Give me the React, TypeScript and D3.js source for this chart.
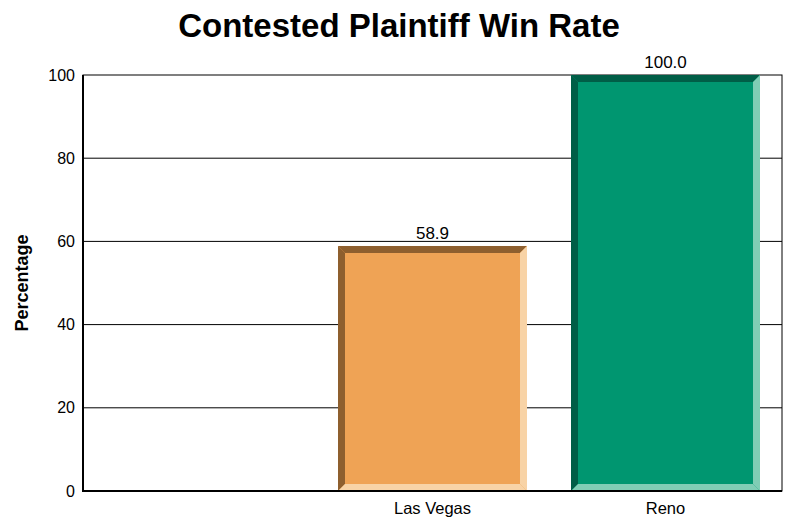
import React from "react";
import * as d3 from "d3";

const categories: string[] = ["", "Las Vegas", "Reno"];
const values: (number | null)[] = [null, 58.9, 100.0];
const faceColors: string[] = ["#EFA355", "#EFA355", "#009670"];
const darkColors: string[] = ["#8E5F2E", "#8E5F2E", "#005E47"];
const lightColors: string[] = ["#F8D3A6", "#F8D3A6", "#80CDB5"];
const yTicks: number[] = [0, 20, 40, 60, 80, 100];
const title = "Contested Plaintiff Win Rate";
const yLabel = "Percentage";

const W = 788;
const H = 518;
const M = { left: 83, right: 6, top: 75, bottom: 27 };

export default function App() {
  const x = d3
    .scaleBand<string>()
    .domain(categories.map((c, i) => String(i)))
    .range([M.left, W - M.right])
    .paddingInner(44 / 233)
    .paddingOuter(22 / 233);
  const y = d3.scaleLinear().domain([0, 100]).range([H - M.bottom, M.top]);
  const b = 7;
  const x0p = M.left;
  const x1p = W - M.right;
  const font = "Arial, 'Liberation Sans', Helvetica, sans-serif";

  return (
    <svg
      width={W}
      height={H}
      style={{ position: "absolute", left: 0, top: 0, background: "#fff" }}
      fontFamily={font}
    >
      <text x={399} y={37} textAnchor="middle" fontSize={33} fontWeight="bold" fill="#000">
        {title}
      </text>
      <text
        transform={`translate(28, ${(y(0) + y(100)) / 2}) rotate(-90)`}
        textAnchor="middle"
        fontSize={18}
        fontWeight="bold"
        fill="#000"
      >
        {yLabel}
      </text>
      {yTicks.map((t) => (
        <g key={t}>
          {t > 0 && t < 100 && (
            <line x1={x0p} x2={x1p} y1={y(t)} y2={y(t)} stroke="#000" strokeWidth={1} />
          )}
          <text x={75} y={y(t)} dy="0.35em" textAnchor="end" fontSize={16} fill="#000">
            {t}
          </text>
        </g>
      ))}
      <rect
        x={x0p}
        y={y(100)}
        width={x1p - x0p}
        height={y(0) - y(100)}
        fill="none"
        stroke="#000"
        strokeWidth={1}
      />
      {categories.map((c, i) => {
        const v = values[i];
        const xs = x(String(i))!;
        const bw = x.bandwidth();
        const cx = xs + bw / 2;
        const label = (
          <text key={"c" + i} x={cx} y={514} textAnchor="middle" fontSize={16.5} fill="#000">
            {c}
          </text>
        );
        if (v == null) return label;
        const X0 = xs;
        const X1 = xs + bw;
        const Y0 = y(v);
        const Y1 = y(0);
        const pts = (a: number[][]) => a.map((p) => p.join(",")).join(" ");
        return (
          <g key={i}>
            <rect x={X0} y={Y0} width={bw} height={Y1 - Y0} fill={faceColors[i]} />
            <polygon
              points={pts([[X0, Y0], [X1, Y0], [X1 - b, Y0 + b], [X0 + b, Y0 + b]])}
              fill={darkColors[i]}
            />
            <polygon
              points={pts([[X0, Y0], [X0 + b, Y0 + b], [X0 + b, Y1 - b], [X0, Y1]])}
              fill={darkColors[i]}
            />
            <polygon
              points={pts([[X1, Y0], [X1, Y1], [X1 - b, Y1 - b], [X1 - b, Y0 + b]])}
              fill={lightColors[i]}
            />
            <polygon
              points={pts([[X0, Y1], [X1, Y1], [X1 - b, Y1 - b], [X0 + b, Y1 - b]])}
              fill={lightColors[i]}
            />
            <text x={cx} y={Y0 - 7} textAnchor="middle" fontSize={17} fill="#000">
              {v.toFixed(1)}
            </text>
            {label}
          </g>
        );
      })}
      <line x1={x0p} x2={x0p} y1={y(100)} y2={y(0) + 1} stroke="#000" strokeWidth={2} />
      <line x1={x0p} x2={x1p} y1={y(0)} y2={y(0)} stroke="#000" strokeWidth={2} />
    </svg>
  );
}
